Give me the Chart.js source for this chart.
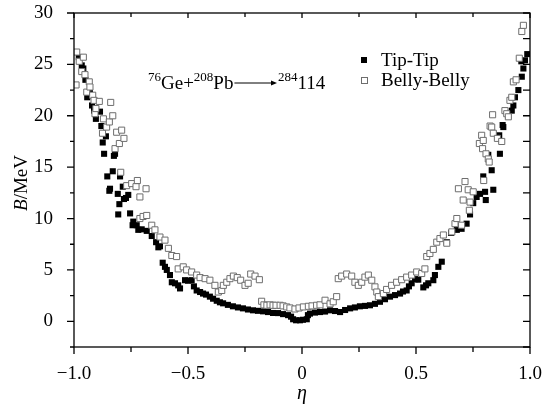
<!DOCTYPE html>
<html>
<head>
<meta charset="utf-8">
<script src="https://cdn.jsdelivr.net/npm/chart.js@4.4.0/dist/chart.umd.min.js"></script>
<style>
  html, body { margin: 0; padding: 0; background: #fff; }
</style>
</head>
<body>
<canvas id="chart" width="544" height="411"></canvas>
<script>
// Tip-Tip (filled squares): eta, B (MeV)
const tipEta = [-0.979, -0.966, -0.959, -0.950, -0.942, -0.930, -0.921, -0.912, -0.904, -0.886,
  -0.880, -0.874, -0.868, -0.860, -0.854, -0.845, -0.842, -0.830, -0.825, -0.820,
  -0.808, -0.806, -0.801, -0.798, -0.786, -0.781, -0.772, -0.762, -0.754, -0.743,
  -0.740, -0.725, -0.718, -0.703, -0.681, -0.659, -0.640, -0.630, -0.623, -0.611,
  -0.601, -0.593, -0.579, -0.571, -0.557, -0.543, -0.535, -0.513, -0.500, -0.484,
  -0.474, -0.462, -0.447, -0.434, -0.421, -0.404, -0.390, -0.374, -0.360, -0.346,
  -0.325, -0.303, -0.281, -0.259, -0.237, -0.215, -0.193, -0.171, -0.149, -0.127,
  -0.105, -0.083, -0.061, -0.048, -0.039, -0.026, -0.009, 0.004, 0.021, 0.026,
  0.035, 0.057, 0.079, 0.101, 0.123, 0.145, 0.167, 0.189, 0.211, 0.232,
  0.254, 0.276, 0.298, 0.320, 0.342, 0.364, 0.386, 0.408, 0.430, 0.443,
  0.459, 0.469, 0.481, 0.496, 0.510, 0.532, 0.544, 0.554, 0.576, 0.583,
  0.598, 0.613, 0.635, 0.654, 0.679, 0.700, 0.722, 0.737, 0.751, 0.766,
  0.781, 0.795, 0.803, 0.806, 0.817, 0.832, 0.839, 0.865, 0.868, 0.880,
  0.883, 0.904, 0.920, 0.927, 0.934, 0.949, 0.962, 0.964, 0.971, 0.978, 0.988];
const tipB = [25.7, 24.9, 24.6, 23.5, 21.8, 22.6, 21.0, 20.5, 19.7, 20.4,
  19.0, 17.4, 16.3, 18.0, 14.1, 12.7, 12.9, 14.6, 16.1, 16.3,
  12.4, 10.4, 11.4, 14.1, 13.1, 11.9, 12.0, 12.3, 10.5, 9.35,
  9.7, 9.35, 8.9, 8.95, 8.8, 8.3, 7.7, 7.2, 7.3, 5.7,
  5.3, 5.0, 4.5, 3.8, 3.7, 3.5, 3.2, 4.0, 3.95, 4.0,
  3.4, 3.0, 2.85, 2.7, 2.6, 2.4, 2.2, 2.0, 1.85, 1.75,
  1.6, 1.46, 1.35, 1.26, 1.15, 1.07, 1.02, 0.97, 0.9, 0.81,
  0.8, 0.7, 0.6, 0.45, 0.2, 0.1, 0.1, 0.15, 0.2, 0.6,
  0.75, 0.85, 0.9, 0.95, 1.07, 1.0, 0.9, 1.1, 1.26, 1.35,
  1.46, 1.5, 1.56, 1.7, 1.9, 2.15, 2.4, 2.55, 2.7, 2.9,
  3.0, 3.4, 3.7, 4.1, 4.05, 3.3, 3.5, 3.7, 4.0, 4.5,
  5.3, 5.8, 7.7, 8.6, 8.9, 9.0, 9.5, 10.4, 11.5, 12.1,
  12.4, 14.1, 12.6, 11.8, 16.2, 14.7, 12.8, 18.1, 16.3, 19.1,
  18.9, 20.0, 20.5, 21.0, 21.8, 22.5, 25.3, 23.8, 24.6, 25.4, 26.0];

// Belly-Belly (open squares): eta, B (MeV)
const bellyEta = [-0.991, -0.988, -0.977, -0.966, -0.959, -0.952, -0.944, -0.933, -0.930, -0.918,
  -0.912, -0.908, -0.904, -0.889, -0.875, -0.871, -0.857, -0.845, -0.839, -0.830,
  -0.820, -0.813, -0.801, -0.795, -0.791, -0.781, -0.769, -0.747, -0.728, -0.722,
  -0.711, -0.711, -0.697, -0.684, -0.681, -0.659, -0.645, -0.623, -0.601, -0.586,
  -0.571, -0.550, -0.543, -0.521, -0.506, -0.484, -0.462, -0.447, -0.425, -0.404,
  -0.382, -0.367, -0.352, -0.345, -0.330, -0.316, -0.301, -0.284, -0.269, -0.250,
  -0.236, -0.225, -0.206, -0.187, -0.177, -0.167, -0.154, -0.140, -0.127, -0.114,
  -0.096, -0.083, -0.067, -0.053, -0.031, -0.013, 0.006, 0.028, 0.044, 0.064,
  0.079, 0.101, 0.123, 0.137, 0.152, 0.159, 0.174, 0.196, 0.218, 0.232,
  0.247, 0.262, 0.276, 0.291, 0.306, 0.320, 0.328, 0.335, 0.357, 0.371,
  0.393, 0.415, 0.437, 0.459, 0.481, 0.503, 0.525, 0.539, 0.547, 0.561,
  0.576, 0.591, 0.605, 0.620, 0.635, 0.657, 0.671, 0.679, 0.686, 0.700,
  0.707, 0.715, 0.729, 0.734, 0.737, 0.751, 0.778, 0.788, 0.792, 0.795,
  0.797, 0.807, 0.817, 0.821, 0.825, 0.832, 0.836, 0.839, 0.857, 0.876,
  0.890, 0.898, 0.905, 0.912, 0.920, 0.927, 0.939, 0.953, 0.964, 0.971];
const bellyB = [23.0, 26.2, 25.3, 24.3, 25.7, 24.0, 22.3, 23.3, 22.8, 22.0,
  21.5, 20.2, 20.7, 21.4, 18.3, 19.7, 18.9, 19.4, 21.3, 20.0,
  16.8, 18.4, 17.3, 14.5, 18.6, 17.8, 13.2, 13.4, 13.1, 13.7,
  12.1, 10.0, 10.2, 12.9, 10.3, 9.35, 8.9, 8.2, 7.9, 7.1,
  6.4, 6.3, 5.1, 5.3, 5.0, 4.8, 4.5, 4.25, 4.15, 4.0,
  3.5, 2.85, 3.0, 3.5, 3.8, 4.15, 4.4, 4.25, 4.0, 3.5,
  3.7, 4.6, 4.4, 4.05, 1.95, 1.6, 1.56, 1.6, 1.56, 1.56,
  1.56, 1.5, 1.4, 1.3, 1.2, 1.3, 1.4, 1.46, 1.5, 1.56,
  1.6, 2.05, 1.7, 1.9, 2.4, 4.15, 4.4, 4.6, 4.4, 3.8,
  3.5, 3.8, 4.3, 4.5, 4.0, 3.35, 2.85, 2.4, 2.7, 3.1,
  3.5, 3.8, 4.05, 4.3, 4.5, 4.8, 4.65, 5.1, 6.3, 6.6,
  7.0, 7.7, 8.05, 8.4, 7.6, 8.7, 9.5, 10.0, 12.9, 9.35,
  11.8, 13.6, 12.8, 10.8, 11.6, 12.6, 17.3, 18.1, 16.8, 17.6,
  13.7, 16.3, 15.8, 15.5, 19.0, 18.9, 20.1, 18.3, 17.8, 17.5,
  20.5, 20.2, 19.9, 21.5, 21.8, 23.3, 23.5, 25.6, 28.2, 28.8];

const xTicks = [-1, -0.5, 0, 0.5, 1];
const xTickLabels = ['\u22121.0', '\u22120.5', '0', '0.5', '1.0'];
const xMinor = [-0.75, -0.25, 0.25, 0.75];
const yTicks = [0, 5, 10, 15, 20, 25, 30];
const yMinor = [-2.5, 2.5, 7.5, 12.5, 17.5, 22.5, 27.5];
const seriesNames = ['Tip-Tip', 'Belly-Belly'];

const SERIF = '"Liberation Serif", "Times New Roman", serif';
const OPEN_GREY = '#6e6e6e';

function toPoints(xs, ys) {
    return xs.map((x, i) => ({ x: x, y: ys[i] }));
}

// frame, mirrored ticks, legend, reaction label, axis titles
const decorations = {
    id: 'decorations',
    afterDraw(chart) {
        const { ctx, chartArea: { left, right, top, bottom }, scales: { x, y } } = chart;
        ctx.save();
        ctx.strokeStyle = '#000';
        ctx.lineWidth = 1.3;
        ctx.strokeRect(left, top, right - left, bottom - top);

        ctx.beginPath();
        xTicks.forEach(v => {
            const px = x.getPixelForValue(v);
            ctx.moveTo(px, bottom); ctx.lineTo(px, bottom + 7);
            ctx.moveTo(px, top); ctx.lineTo(px, top + 5);
        });
        xMinor.forEach(v => {
            const px = x.getPixelForValue(v);
            ctx.moveTo(px, bottom); ctx.lineTo(px, bottom + 5);
            ctx.moveTo(px, top); ctx.lineTo(px, top + 4);
        });
        yTicks.forEach(v => {
            const py = y.getPixelForValue(v);
            ctx.moveTo(left, py); ctx.lineTo(left - 7, py);
            ctx.moveTo(right, py); ctx.lineTo(right - 7, py);
        });
        yMinor.forEach(v => {
            const py = y.getPixelForValue(v);
            ctx.moveTo(left, py); ctx.lineTo(left - 4, py);
            ctx.moveTo(right, py); ctx.lineTo(right - 7, py);
        });
        ctx.stroke();

        // legend
        ctx.fillStyle = '#000';
        ctx.fillRect(361, 57, 6, 6);
        ctx.fillStyle = '#fff';
        ctx.strokeStyle = OPEN_GREY;
        ctx.lineWidth = 1;
        ctx.fillRect(361, 77, 6, 6);
        ctx.strokeRect(361.5, 77.5, 6, 6);
        ctx.fillStyle = '#000';
        ctx.font = '19px ' + SERIF;
        ctx.textBaseline = 'middle';
        ctx.textAlign = 'left';
        ctx.fillText(seriesNames[0], 381, 61);
        ctx.fillText(seriesNames[1], 381, 81);

        // reaction label
        ctx.textBaseline = 'alphabetic';
        const base = 89;
        let cx = 148;
        const part = (t, sup) => {
            ctx.font = (sup ? '13px ' : '19px ') + SERIF;
            ctx.fillText(t, cx, sup ? base - 8 : base);
            cx += ctx.measureText(t).width;
        };
        part('76', true); part('Ge+', false); part('208', true); part('Pb', false);
        const arrowEnd = 277;
        ctx.strokeStyle = '#000';
        ctx.lineWidth = 1;
        ctx.beginPath();
        ctx.moveTo(cx + 1, base - 6); ctx.lineTo(arrowEnd - 3, base - 6);
        ctx.stroke();
        ctx.beginPath();
        ctx.moveTo(arrowEnd, base - 6);
        ctx.lineTo(arrowEnd - 6, base - 8.5);
        ctx.lineTo(arrowEnd - 6, base - 3.5);
        ctx.closePath();
        ctx.fill();
        cx = arrowEnd + 1;
        part('284', true); part('114', false);

        // axis titles
        ctx.font = 'italic 20px ' + SERIF;
        ctx.textAlign = 'center';
        ctx.textBaseline = 'middle';
        ctx.fillText('\u03b7', (left + right) / 2, 394);

        ctx.translate(22, 183);
        ctx.rotate(-Math.PI / 2);
        ctx.textAlign = 'left';
        ctx.font = 'italic 19px ' + SERIF;
        const bw = ctx.measureText('B').width;
        ctx.font = '19px ' + SERIF;
        const rw = ctx.measureText('/MeV').width;
        let sx = -(bw + rw) / 2;
        ctx.font = 'italic 19px ' + SERIF;
        ctx.fillText('B', sx, 0);
        ctx.font = '19px ' + SERIF;
        ctx.fillText('/MeV', sx + bw, 0);
        ctx.restore();
    }
};

new Chart(document.getElementById('chart'), {
    type: 'scatter',
    data: {
        datasets: [{
            label: seriesNames[0],
            data: toPoints(tipEta, tipB),
            pointStyle: 'rect',
            pointRadius: 4.3,
            pointHoverRadius: 4.3,
            backgroundColor: '#000',
            borderColor: '#000',
            borderWidth: 0,
            order: 2
        }, {
            label: seriesNames[1],
            data: toPoints(bellyEta, bellyB),
            pointStyle: 'rect',
            pointRadius: 4.3,
            pointHoverRadius: 4.3,
            backgroundColor: '#fff',
            borderColor: OPEN_GREY,
            borderWidth: 1,
            order: 1
        }]
    },
    options: {
        responsive: false,
        animation: false,
        layout: { padding: { left: 0, right: 14, top: 13, bottom: 0 } },
        plugins: {
            legend: { display: false },
            tooltip: { enabled: false }
        },
        scales: {
            x: {
                type: 'linear',
                min: -1,
                max: 1,
                grid: { display: false },
                border: { display: false },
                afterBuildTicks: scale => { scale.ticks = xTicks.map(v => ({ value: v })); },
                afterFit: scale => {
                    scale.height = 64;
                    scale.paddingLeft = 0;
                    scale.paddingRight = 0;
                },
                ticks: {
                    callback: (v, i) => xTickLabels[i],
                    color: '#000',
                    font: { family: SERIF, size: 19 },
                    padding: 8,
                    maxRotation: 0
                }
            },
            y: {
                type: 'linear',
                min: -2.5,
                max: 30,
                grid: { display: false },
                border: { display: false },
                afterBuildTicks: scale => { scale.ticks = yTicks.map(v => ({ value: v })); },
                afterFit: scale => {
                    scale.width = 74;
                    scale.paddingTop = 0;
                    scale.paddingBottom = 0;
                },
                ticks: {
                    color: '#000',
                    font: { family: SERIF, size: 19 },
                    padding: 13
                }
            }
        }
    },
    plugins: [decorations]
});
</script>
</body>
</html>
